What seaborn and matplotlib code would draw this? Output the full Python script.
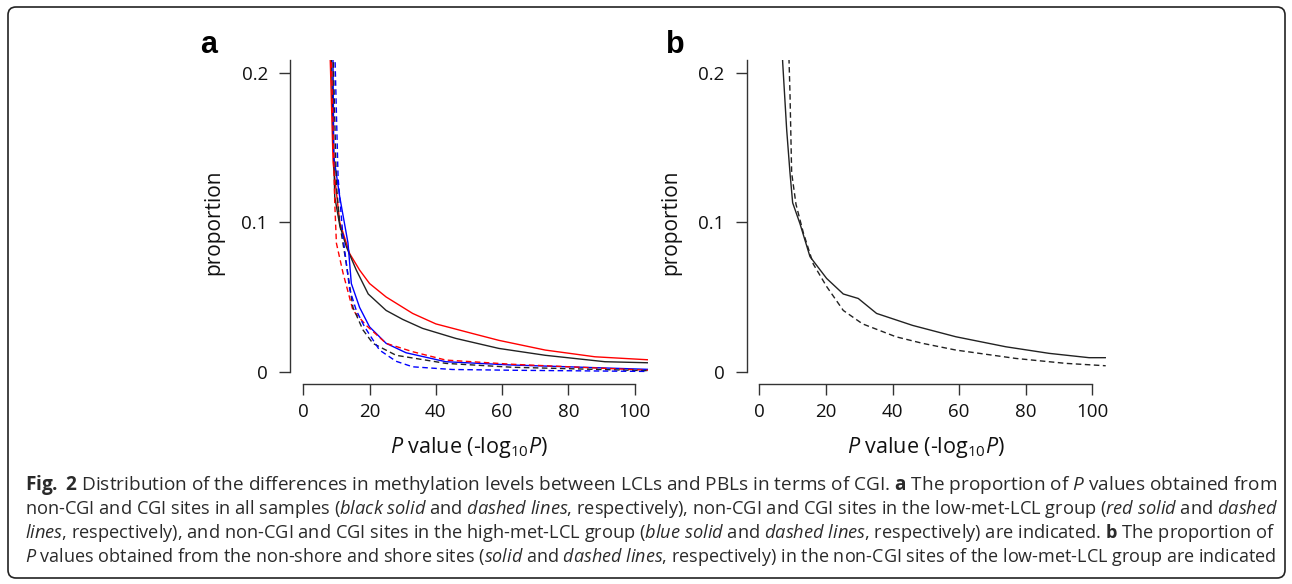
import matplotlib
matplotlib.use("Agg")
import matplotlib.pyplot as plt
import matplotlib.transforms as mtransforms
from matplotlib.patches import FancyBboxPatch
import pandas as pd
import seaborn as sns

# ---- data (x = -log10 P, y = proportion) ----
# panel a
all_noncgi_x = [8.0, 9.5, 11, 13, 16, 19.6, 25, 30, 36, 46, 59, 73, 91, 104]
all_noncgi_y = [0.26, 0.117, 0.098, 0.0836, 0.068, 0.052, 0.041, 0.035, 0.029, 0.0223, 0.0156, 0.011, 0.0067, 0.006]
all_cgi_x = [8.5, 10, 11, 13, 15, 18, 21, 28, 43, 63, 104]
all_cgi_y = [0.26, 0.125, 0.099, 0.072, 0.043, 0.028, 0.019, 0.011, 0.0056, 0.003, 0.0007]
low_noncgi_x = [7.5, 9.0, 11, 14, 17, 20, 25, 33, 40, 51, 59, 73, 88, 104]
low_noncgi_y = [0.26, 0.14, 0.10, 0.079, 0.068, 0.059, 0.050, 0.039, 0.032, 0.0256, 0.021, 0.0145, 0.010, 0.008]
low_cgi_x = [8.0, 9.5, 10, 12, 15, 19, 25, 33, 43, 63, 104]
low_cgi_y = [0.26, 0.113, 0.086, 0.066, 0.041, 0.031, 0.019, 0.0134, 0.0078, 0.005, 0.001]
high_noncgi_x = [8.8, 9.2, 11, 13.5, 14.5, 17, 20, 25, 31, 43, 63, 104]
high_noncgi_y = [0.26, 0.144, 0.117, 0.086, 0.059, 0.043, 0.030, 0.019, 0.0127, 0.0067, 0.0045, 0.0016]
high_cgi_x = [9.0, 10.5, 12, 14, 16, 18.5, 23, 28, 33, 45, 63, 104]
high_cgi_y = [0.26, 0.13, 0.09, 0.055, 0.041, 0.030, 0.0145, 0.007, 0.0033, 0.0015, 0.001, 0.0002]

# panel b
nonshore_x = [6.5, 7.0, 8.2, 9.2, 10, 12.2, 15.2, 20.2, 25.2, 29.7, 35.2, 46, 59, 74, 87, 99, 104]
nonshore_y = [0.24, 0.207, 0.162, 0.133, 0.113, 0.099, 0.077, 0.0624, 0.052, 0.049, 0.039, 0.031, 0.0234, 0.0167, 0.0123, 0.0094, 0.0094]
shore_x = [8.5, 9.2, 9.7, 11, 13.2, 16.2, 20.2, 25.2, 31, 41, 49, 59, 77, 92, 104]
shore_y = [0.24, 0.186, 0.133, 0.112, 0.093, 0.072, 0.057, 0.041, 0.032, 0.0234, 0.019, 0.0145, 0.0089, 0.0056, 0.004]

x_ticks = [0, 20, 40, 60, 80, 100]
y_ticks = [0, 0.1, 0.2]
y_ticklabels = ["0", "0.1", "0.2"]

caption_lines = [
    [("b", "Fig. 2"), ("r", " Distribution of the differences in methylation levels between LCLs and PBLs in terms of CGI. "),
     ("b", "a"), ("r", " The proportion of "), ("i", "P"), ("r", " values obtained from")],
    [("r", "non-CGI and CGI sites in all samples ("), ("i", "black solid"), ("r", " and "), ("i", "dashed lines"),
     ("r", ", respectively), non-CGI and CGI sites in the low-met-LCL group ("), ("i", "red solid"),
     ("r", " and "), ("i", "dashed")],
    [("i", "lines"), ("r", ", respectively), and non-CGI and CGI sites in the high-met-LCL group ("),
     ("i", "blue solid"), ("r", " and "), ("i", "dashed lines"), ("r", ", respectively) are indicated. "),
     ("b", "b"), ("r", " The proportion of")],
    [("i", "P"), ("r", " values obtained from the non-shore and shore sites ("), ("i", "solid"), ("r", " and "),
     ("i", "dashed lines"), ("r", ", respectively) in the non-CGI sites of the low-met-LCL group are indicated")],
]
caption_right = [1278, 1278, 1276, 1276]

sns.set_theme(style="white")
plt.rcParams["font.family"] = ["Open Sans", "DejaVu Sans"]
plt.rcParams["mathtext.fontset"] = "custom"
plt.rcParams["mathtext.rm"] = "Open Sans"
plt.rcParams["mathtext.it"] = "Open Sans:italic"
plt.rcParams["mathtext.bf"] = "Open Sans:bold"

W, H = 1292, 584
fig = plt.figure(figsize=(W / 100, H / 100), dpi=100)


def px_axes(left, top, right, bottom):
    return fig.add_axes([left / W, 1 - bottom / H, (right - left) / W, (bottom - top) / H])


def style_axes(ax, xmin):
    ax.set_xlim(xmin, 104)
    ax.set_ylim(-0.0082, 0.2085)
    ax.set_xticks(x_ticks)
    ax.set_yticks(y_ticks)
    ax.set_yticklabels(y_ticklabels)
    for side in ["top", "right"]:
        ax.spines[side].set_visible(False)
    for side in ["left", "bottom"]:
        ax.spines[side].set_color("#333333")
        ax.spines[side].set_linewidth(1.0)
    ax.spines["left"].set_bounds(0, 0.2085)
    ax.spines["bottom"].set_bounds(0, 100)
    ax.tick_params(axis="both", which="both", direction="out", length=8, width=1.0,
                   color="#333333", labelsize=13.5, labelcolor="#111111",
                   left=True, bottom=True)
    ax.tick_params(axis="y", pad=8)
    ax.tick_params(axis="x", pad=5.5)
    ax.set_ylabel("proportion", fontsize=15, color="#111111", labelpad=12)
    ax.set_xlabel(r"$\it{P}$ value (-log$_{10}$$\it{P}$)", fontsize=15.5, color="#111111", labelpad=10)


def draw(ax, x, y, color, dashed):
    df = pd.DataFrame({"x": x, "y": y})
    sns.lineplot(data=df, x="x", y="y", ax=ax, color=color, lw=1.0,
                 estimator=None, sort=False,
                 linestyle=(0, (4, 2.5)) if dashed else "-")


ax_a = px_axes(290, 60, 648, 384)
draw(ax_a, low_noncgi_x, low_noncgi_y, "#ff0000", False)
draw(ax_a, all_noncgi_x, all_noncgi_y, "#222222", False)
draw(ax_a, high_noncgi_x, high_noncgi_y, "#0000ff", False)
draw(ax_a, low_cgi_x, low_cgi_y, "#ff0000", True)
draw(ax_a, all_cgi_x, all_cgi_y, "#222222", True)
draw(ax_a, high_cgi_x, high_cgi_y, "#0000ff", True)
style_axes(ax_a, -4)

ax_b = px_axes(746.7, 60, 1105.7, 384)
draw(ax_b, nonshore_x, nonshore_y, "#222222", False)
draw(ax_b, shore_x, shore_y, "#222222", True)
style_axes(ax_b, -3.8)

for label, xpx in [("a", 209), ("b", 675)]:
    fig.text(xpx / W, 1 - 53 / H, label, fontsize=22, fontweight="bold",
             family=["Liberation Sans", "DejaVu Sans"], ha="center", va="baseline", color="black")


def seg_text(segs):
    # bold / italic words go through mathtext, one word at a time so the
    # spaces between them stay ordinary text spaces
    out = ""
    for kind, txt in segs:
        if kind == "r":
            out += txt
        else:
            cmd = r"\mathbf" if kind == "b" else r"\mathit"
            out += " ".join("$" + cmd + "{" + word + "}$" for word in txt.split(" "))
    return out


# caption lines, each sized so it fills the same width as in the reference
renderer = fig.canvas.get_renderer()
left_px = 25
for i, segs in enumerate(caption_lines):
    t = fig.text(left_px / W, 1 - (485 + 24 * i) / H, seg_text(segs), fontsize=13.6,
                 ha="left", va="center", color="#2a2a2a")
    for _ in range(2):
        w = t.get_window_extent(renderer).width
        t.set_fontsize(t.get_fontsize() * (caption_right[i] - left_px) / w)

border = FancyBboxPatch((8, 6), 1277, 571, boxstyle="round,pad=0,rounding_size=8",
                        transform=mtransforms.IdentityTransform(), fill=False,
                        edgecolor="#222222", linewidth=1.2)
fig.add_artist(border)

fig.savefig("out.png", dpi=100)
